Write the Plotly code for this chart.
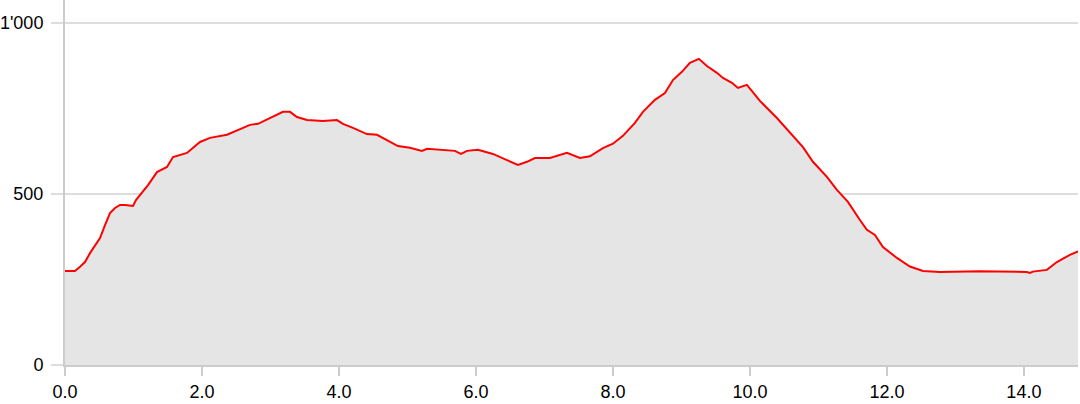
import plotly.graph_objects as go

distance_km = [0.000, 0.146, 0.219, 0.292, 0.365, 0.438, 0.511, 0.584, 0.657, 0.730,
               0.803, 0.876, 0.949, 0.993, 1.036, 1.124, 1.212, 1.343, 1.489, 1.577,
               1.781, 1.971, 2.117, 2.365, 2.555, 2.701, 2.818, 3.036, 3.182, 3.285,
               3.387, 3.533, 3.766, 3.971, 4.058, 4.204, 4.409, 4.555, 4.642, 4.861,
               5.036, 5.212, 5.285, 5.474, 5.693, 5.781, 5.869, 6.029, 6.248, 6.453,
               6.613, 6.745, 6.861, 7.080, 7.328, 7.518, 7.664, 7.854, 8.000, 8.146,
               8.321, 8.438, 8.613, 8.759, 8.876, 9.007, 9.124, 9.255, 9.372, 9.518,
               9.606, 9.737, 9.825, 9.956, 10.044, 10.146, 10.394, 10.584, 10.774, 10.920,
               11.124, 11.270, 11.431, 11.606, 11.708, 11.825, 11.942, 12.146, 12.336, 12.526,
               12.774, 13.358, 14.044, 14.088, 14.131, 14.336, 14.482, 14.672, 14.790]

elevation_m = [275, 275, 287, 301, 327, 351, 371, 409, 444, 459,
               468, 468, 466, 465, 482, 503, 526, 564, 579, 608,
               620, 652, 664, 673, 690, 702, 705, 725, 740, 740,
               725, 716, 713, 716, 705, 693, 675, 673, 664, 640,
               635, 626, 632, 629, 626, 617, 626, 629, 617, 599,
               585, 594, 605, 605, 620, 605, 610, 634, 647, 670,
               708, 740, 775, 795, 833, 857, 883, 895, 874, 854,
               839, 825, 810, 819, 798, 772, 722, 678, 637, 594,
               550, 512, 477, 424, 395, 380, 345, 313, 288, 275,
               272, 274, 272, 269, 273, 278, 301, 322, 332]

x_tick_vals = [0, 2, 4, 6, 8, 10, 12, 14]
x_tick_text = ["0.0", "2.0", "4.0", "6.0", "8.0", "10.0", "12.0", "14.0"]
y_tick_vals = [0, 500, 1000]
y_tick_text = ["0", "500", "1'000"]

fig = go.Figure()
fig.add_trace(go.Scatter(
    x=distance_km, y=elevation_m,
    mode="lines",
    line=dict(color="#ff0000", width=2),
    fill="tozeroy",
    fillcolor="#e5e5e5",
    hoverinfo="skip",
))

fig.update_layout(
    width=1080, height=404,
    margin=dict(l=65, r=2, t=0, b=39, autoexpand=False),
    paper_bgcolor="white",
    plot_bgcolor="white",
    showlegend=False,
    font=dict(family="Liberation Sans, Arial, sans-serif", size=18, color="#000000"),
)
fig.update_xaxes(
    range=[0, 14.79],
    tickvals=x_tick_vals, ticktext=x_tick_text,
    showgrid=False, zeroline=False, automargin=False,
    showline=True, linecolor="#cccccc", linewidth=2,
    ticks="outside", ticklen=9, tickwidth=2, tickcolor="#cccccc",
    ticklabelstandoff=0,
)
fig.update_yaxes(
    range=[0, 1067],
    tickvals=y_tick_vals, ticktext=y_tick_text,
    showgrid=True, gridcolor="#dddddd", gridwidth=2,
    zeroline=False, automargin=False,
    showline=True, linecolor="#cccccc", linewidth=2,
    ticks="outside", ticklen=12, tickwidth=2, tickcolor="#dddddd",
    ticklabelstandoff=4,
)

fig.write_html(
    "out.html",
    config={"displayModeBar": False},
    post_script="document.body.style.margin='0';document.body.style.overflow='hidden';",
)
